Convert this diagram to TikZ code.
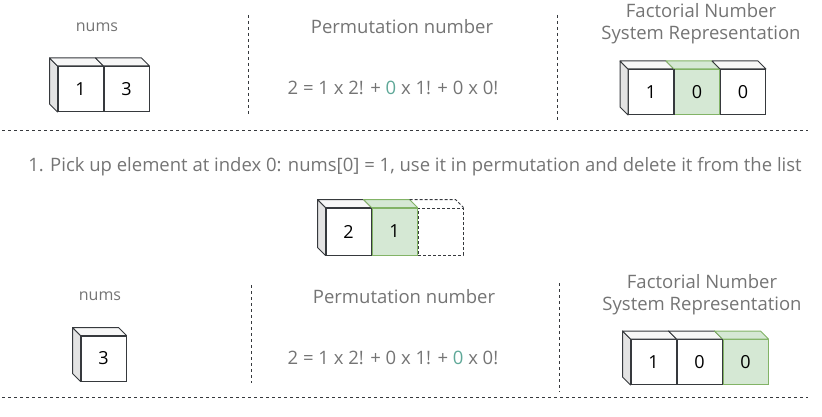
\documentclass[tikz,border=0pt]{standalone}
\usepackage{fontspec}
\setmainfont{Open Sans}
\usetikzlibrary{positioning}

\definecolor{greytext}{HTML}{747474}
\definecolor{tealdigit}{HTML}{5FA898}
\definecolor{cubeline}{HTML}{36393D}
\definecolor{cubeside}{HTML}{E3E3E3}
\definecolor{cubetop}{HTML}{F7F7F7}
\definecolor{greenfill}{HTML}{D5E8D4}
\definecolor{greenline}{HTML}{82B366}

\tikzset{
	grey caption/.style={text=greytext, align=center, inner sep=0pt, font=\fontsize{18.5}{22}\selectfont},
	cell/.style={draw=cubeline, fill=white, line width=1pt, minimum width=45pt, minimum height=45pt, inner sep=0pt, font=\fontsize{18}{18}\selectfont},
	green cell/.style={cell, draw=greenline, fill=greenfill},
	empty cell/.style={cell, dash pattern=on 3pt off 2pt},
	separator/.style={draw=cubeline, line width=0.8pt, dash pattern=on 3pt off 3pt},
}

% left face and lid of a cube, hung on the front face node
\newcommand{\cubeleft}[2][]{%
	\filldraw[draw=cubeline, fill=cubeside, line width=1pt, line join=round, #1] (#2.north west) -- ++(-8,-8) -- ([shift={(-8,-8)}]#2.south west) -- (#2.south west) -- cycle;
}
\newcommand{\cubelid}[3][]{%
	\filldraw[draw=cubeline, fill=#3, line width=1pt, line join=round, #1] (#2.north west) -- ++(-8,-8) -- ([shift={(-8,-8)}]#2.north east) -- (#2.north east) -- cycle;
}

\begin{document}
\begin{tikzpicture}[x=1pt, y=-1pt]

	\useasboundingbox (0,0) rectangle (822,417);

	\node[grey caption, font=\fontsize{16}{22}\selectfont] (numsA) at (97,27) {nums};
	\node[grey caption] (permA) at (402,27) {Permutation number};
	\node[grey caption] (fnsA) at (701,24) {Factorial Number\\System Representation};
	\node[grey caption] (formulaA) at (393,88) {2 = 1 x 2! + \textcolor{tealdigit}{0} x 1! + 0 x 0!};

	\node[cell] (numsA1) at (80.5,89) {1};
	\node[cell, right=0pt of numsA1] (numsA2) {3};
	\cubeleft{numsA1}
	\cubelid{numsA1}{cubetop}
	\cubelid{numsA2}{cubetop}

	\node[cell] (fnsA1) at (651,92) {1};
	\node[green cell, right=0pt of fnsA1] (fnsA2) {0};
	\node[cell, right=0pt of fnsA2] (fnsA3) {0};
	\cubeleft{fnsA1}
	\cubelid{fnsA1}{cubetop}
	\cubelid[draw=greenline]{fnsA2}{greenfill}
	\cubelid{fnsA3}{cubetop}
	\draw[cubeline, line width=1pt] (fnsA2.north west) -- (fnsA2.south west) (fnsA3.north west) -- (fnsA3.south west);

	\draw[separator] (248,15) -- (248,115);
	\draw[separator] (557,15) -- (557,122);
	\draw[separator] (2,130) -- (808,130);

	\node[grey caption] (step) at (415,167) {1. Pick up element at index 0: nums[0] = 1, use it in permutation and delete it from the list};

	\node[cell, minimum height=47pt] (listB1) at (348.5,231.5) {2};
	\node[green cell, minimum height=47pt, right=0pt of listB1] (listB2) {1};
	\node[empty cell, minimum height=47pt, right=0pt of listB2] (listB3) {};
	\cubeleft{listB1}
	\cubelid{listB1}{cubetop}
	\cubelid[draw=greenline]{listB2}{greenfill}
	\draw[cubeline, line width=1pt, dash pattern=on 3pt off 2pt] (listB3.north west) ++(-8,-8) -- ([shift={(-8,-8)}]listB3.north east) -- (listB3.north east);
	\draw[cubeline, line width=1pt] (listB2.north west) -- (listB2.south west);

	\node[grey caption, font=\fontsize{16}{22}\selectfont] (numsC) at (100,296) {nums};
	\node[grey caption] (permC) at (404,297) {Permutation number};
	\node[grey caption] (fnsC) at (702,295) {Factorial Number\\System Representation};
	\node[grey caption] (formulaC) at (393,358) {2 = 1 x 2! + 0 x 1! + \textcolor{tealdigit}{0} x 0!};

	\node[cell] (numsC1) at (103.5,358.5) {3};
	\cubeleft{numsC1}
	\cubelid{numsC1}{cubetop}

	\node[cell] (fnsC1) at (653.5,362) {1};
	\node[cell, right=0pt of fnsC1] (fnsC2) {0};
	\node[green cell, right=0pt of fnsC2] (fnsC3) {0};
	\cubeleft{fnsC1}
	\cubelid{fnsC1}{cubetop}
	\cubelid{fnsC2}{cubetop}
	\cubelid[draw=greenline]{fnsC3}{greenfill}
	\draw[cubeline, line width=1pt] (fnsC3.north west) -- (fnsC3.south west);

	\draw[separator] (251,285) -- (251,383);
	\draw[separator] (559,283) -- (559,392);
	\draw[separator] (2,397) -- (808,397);

\end{tikzpicture}
\end{document}
